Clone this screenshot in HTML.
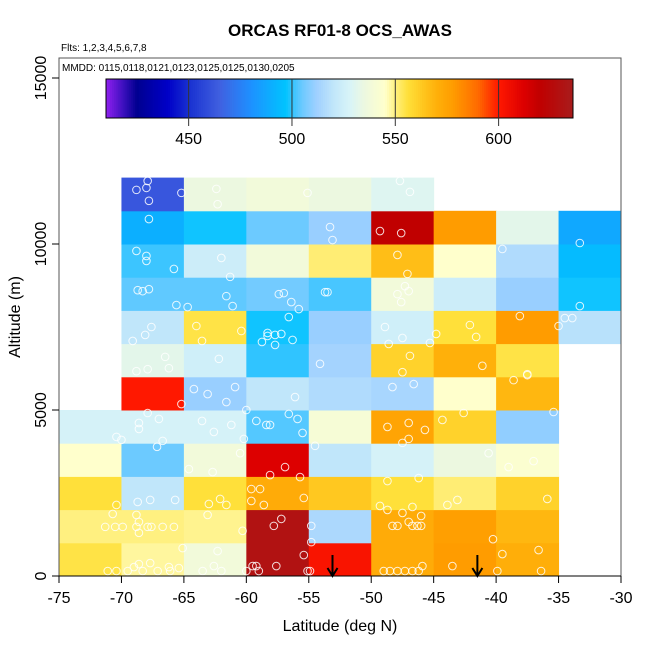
<!DOCTYPE html>
<html><head><meta charset="utf-8"><style>
body{margin:0;background:#fff}
svg text{font-family:"Liberation Sans",sans-serif}
</style></head><body>
<svg id="chart" width="650" height="650" xmlns="http://www.w3.org/2000/svg">
<text x="340" y="36" text-anchor="middle" font-size="17" font-weight="bold">ORCAS RF01-8 OCS_AWAS</text>
<text x="61" y="51" font-size="10">Flts: 1,2,3,4,5,6,7,8</text>
<g id="cells"></g>
<g id="pts"></g>
<g id="arrows"></g>
<rect x="59" y="58" width="562" height="518" fill="none" stroke="#555" stroke-width="1"/>
<text x="62" y="71" font-size="10">MMDD: 0115,0118,0121,0123,0125,0125,0130,0205</text>
<g id="cbar"></g>
<g id="axes"></g>
<text x="340" y="631" text-anchor="middle" font-size="16">Latitude (deg N)</text>
<text transform="translate(20,317) rotate(-90)" text-anchor="middle" font-size="16">Altitude (m)</text>
</svg>
<script>
const latBins = [-75,-70,-65,-60,-55,-50,-45,-40,-35];
const altBins = [0,1000,2000,3000,4000,5000,6000,7000,8000,9000,10000,11000];
// values[row][col], row = altitude bin, col = latitude bin; null = no data
const values = [
 [555,548,538,630,602,572,578,571,null],
 [550,550,549,630,515,572,577,568,null],
 [556,520,556,572,563,556,551,560,null],
 [545,505,538,612,520,527,535,543,null],
 [527,527,527,503,540,575,560,510,null],
 [null,600,511,520,516,514,545,568,null],
 [null,532,525,500,513,560,570,555,null],
 [null,520,555,498,511,525,556,578,518],
 [null,504,504,506,502,538,524,511,498],
 [null,501,524,538,551,566,545,516,494],
 [null,490,498,505,511,620,578,532,488],
 [null,462,535,538,535,530,null,null,null]
];
const ptLat = [-67.9,-68.8,-68.0,-67.8,-65.2,-62.4,-62.3,-55.1,-47.7,-46.9,-67.8,-53.3,-53.1,-49.3,-47.6,-33.3,-39.5,-68.8,-68.0,-68.0,-65.8,-62.0,-47.9,-47.1,-61.3,-68.7,-68.3,-67.8,-65.6,-64.7,-61.6,-61.1,-57.4,-57.0,-56.4,-55.8,-53.7,-53.5,-47.3,-47.9,-47.0,-47.6,-33.3,-38.1,-34.5,-33.9,-35.0,-67.6,-68.1,-69.1,-64.0,-63.55,-60.4,-56.6,-58.3,-57.7,-57.2,-56.3,-58.75,-57.7,-58.3,-48.9,-47.5,-48.6,-45.3,-44.8,-42.1,-41.6,-66.5,-67.9,-68.8,-66.2,-62.2,-54.1,-46.9,-47.5,-41.1,-37.5,
-65.2,-64.2,-63.1,-61.6,-60.9,-56.1,-48.3,-46.6,-38.6,-37.5,-67.9,-68.6,-68.6,-67.0,-70.4,-70.0,-66.7,-67.15,-63.55,-62.6,-61.2,-60.2,-60.0,-59.2,-58.4,-58.1,-56.6,-55.9,-55.5,-54.5,-48.7,-47.0,-45.7,-47.5,-47.0,-44.3,-42.6,-35.4,-60.5,-62.7,-64.6,-56.9,-58.1,-55.7,-40.6,-39.0,-37.0,-46.2,-48.7,-70.4,-68.7,-67.7,-65.7,-63.0,-62.1,-61.6,-59.6,-58.9,-59.6,-58.6,-55.4,-49.3,-48.7,-46.7,-43.9,-43.1,-35.9,-70.7,-68.8,-63.1,-47.5,-46.0,-71.3,-70.5,-69.9,-68.8,-68.6,-68.6,-67.9,-67.6,-66.7,-65.8,-60.3,-57.8,-57.2,-54.8,-54.8,-48.3,-47.9,-47.0,-46.7,-46.3,-46.0,-40.25,-65.1,-62.3,-55.4,-39.5,-36.6,-71.1,-70.4,-69.5,-69.0,-68.6,-68.3,-67.7,-67.1,-66.2,-66.1,-65.4,-63.5,-62.6,-62.0,-60.0,-59.5,-59.2,-59.0,-57.6,-55.1,-54.9,-49.0,-48.5,-47.9,-47.3,-46.7,-46.2,-45.9,-43.5,-39.9,-36.4];
const ptAlt = [11900,11630,11690,11300,11540,11660,11200,11540,11900,11570,10750,10510,10120,10390,10330,10030,9850,9790,9640,9490,9250,9580,9670,9100,9010,8610,8580,8640,8160,8100,8430,8130,8490,8520,8250,8040,8550,8550,8730,8490,8580,8250,8130,7830,7770,7770,7530,7500,7260,7080,7530,7080,7380,7800,7320,7260,7290,7110,7050,6960,7230,7500,7170,6990,7020,7290,7560,7200,6600,6230,6170,6260,6540,6390,6630,6140,6330,6080,
5180,5630,5480,5240,5690,5390,5690,5780,5900,6050,4910,4610,4430,4730,4190,4100,4070,3890,4670,4340,4550,4130,5000,4670,4550,4550,4880,4730,4310,3920,4490,4610,4400,4010,4130,4700,4910,4940,3700,3130,3220,3280,3040,2980,3700,3280,3460,2950,2860,2140,2230,2290,2290,2170,2320,2140,2620,2620,2260,2140,2350,2110,1990,2080,2140,2290,2320,1870,1840,1840,1900,1810,1480,1480,1480,1480,1630,1300,1480,1480,1480,1480,1360,1510,1720,1510,1020,1510,1510,1630,1510,1510,1510,1110,840,750,630,660,780,150,150,150,270,360,150,390,150,270,150,240,150,300,150,150,300,300,150,300,150,150,150,150,150,150,150,150,300,300,150,150];
const arrowLat = [-53.1,-41.5];
const xTicks = [-75,-70,-65,-60,-55,-50,-45,-40,-35,-30];
const yTicks = [0,5000,10000,15000];
const cbTicks = [450,500,550,600];

const NS='http://www.w3.org/2000/svg';
const X0=59,X1=621,Y0=576,Ymax=58;
const xs=v=>X0+(v+75)/45*(X1-X0);
const ys=v=>Y0-v/1000*33.2;
const CB0=106,CB1=573,CBmin=410,CBmax=636;
const cbx=v=>CB0+(v-CBmin)/(CBmax-CBmin)*(CB1-CB0);
const stops=[[410,'#9020f0'],[418,'#4010c0'],[425,'#000090'],[440,'#0000c8'],[450,'#1830d0'],[465,'#4060e0'],[480,'#1e90ff'],[497,'#00c4ff'],[500,'#30c4ff'],[505,'#6ccaff'],[512,'#a0d0ff'],[520,'#c0e6fa'],[528,'#d8f4f8'],[535,'#ecf8e0'],[545,'#ffffcc'],[550,'#fff080'],[556,'#ffe03a'],[563,'#ffc820'],[570,'#ffb00a'],[578,'#ff9c00'],[590,'#ff6a00'],[600,'#ff1800'],[612,'#dd0000'],[620,'#c00000'],[636,'#a81c1c']];
function hex(c){return [1,3,5].map(i=>parseInt(c.substr(i,2),16));}
function cmap(v){
  if(v<=stops[0][0])return stops[0][1];
  for(let i=1;i<stops.length;i++){if(v<=stops[i][0]){const a=stops[i-1],b=stops[i];const t=(v-a[0])/(b[0]-a[0]);const ca=hex(a[1]),cb=hex(b[1]);return 'rgb('+ca.map((x,k)=>Math.round(x+(cb[k]-x)*t)).join(',')+')';}}
  return stops[stops.length-1][1];
}
function el(tag,attrs,parent){const e=document.createElementNS(NS,tag);for(const k in attrs)e.setAttribute(k,attrs[k]);parent.appendChild(e);return e;}
const gC=document.getElementById('cells');
values.forEach((row,r)=>row.forEach((v,c)=>{
  if(v===null)return;
  const x=xs(latBins[c]),x2=xs(latBins[c]+5),y=ys(altBins[r]+1000),y2=ys(altBins[r]);
  const e=el('rect',{x:x,y:y,width:x2-x+0.5,height:y2-y+0.5,fill:cmap(v)},gC);
  
  
}));
const gP=document.getElementById('pts');
ptLat.forEach((la,i)=>{
  const e=el('circle',{cx:xs(la),cy:ys(ptAlt[i]),r:3.8,fill:'none',stroke:'#fff','stroke-width':1,opacity:0.85},gP);
  
  
});
const gA=document.getElementById('arrows');
arrowLat.forEach(la=>{
  const x=xs(la);
  const g=el('g',{},gA);
  
  
  el('line',{x1:x,y1:555,x2:x,y2:575,stroke:'#000','stroke-width':2},g);
  el('path',{d:`M${x-5},${568} L${x},${576} L${x+5},${568}`,fill:'none',stroke:'#000','stroke-width':2},g);
});
const gB=document.getElementById('cbar');
for(let v=CBmin;v<CBmax;v+=1){
  const e=el('rect',{x:cbx(v),y:79,width:cbx(v+1)-cbx(v)+0.4,height:39,fill:cmap(v+0.5)},gB);
}
el('rect',{x:CB0,y:79,width:CB1-CB0,height:39,fill:'none',stroke:'#000','stroke-width':1},gB);
cbTicks.forEach(t=>{
  el('line',{x1:cbx(t),y1:79,x2:cbx(t),y2:126,stroke:'#333','stroke-width':1},gB);
  const e=el('text',{x:cbx(t),y:144,'text-anchor':'middle','font-size':16},gB);
  e.textContent=t;
  
  
});
const gX=document.getElementById('axes');
el('line',{x1:X0,y1:Y0,x2:X1,y2:Y0,stroke:'#000','stroke-width':1},gX);
xTicks.forEach(t=>{
  el('line',{x1:xs(t),y1:Y0,x2:xs(t),y2:Y0+7,stroke:'#000'},gX);
  const e=el('text',{x:xs(t),y:603,'text-anchor':'middle','font-size':16},gX);
  e.textContent=t;
  
  
});
yTicks.forEach(t=>{
  el('line',{x1:X0,y1:ys(t),x2:X0-7,y2:ys(t),stroke:'#000'},gX);
  const e=el('text',{transform:`translate(46,${ys(t)}) rotate(-90)`,'text-anchor':'middle','font-size':16},gX);
  e.textContent=t;
  
  
});
</script>
</body></html>
